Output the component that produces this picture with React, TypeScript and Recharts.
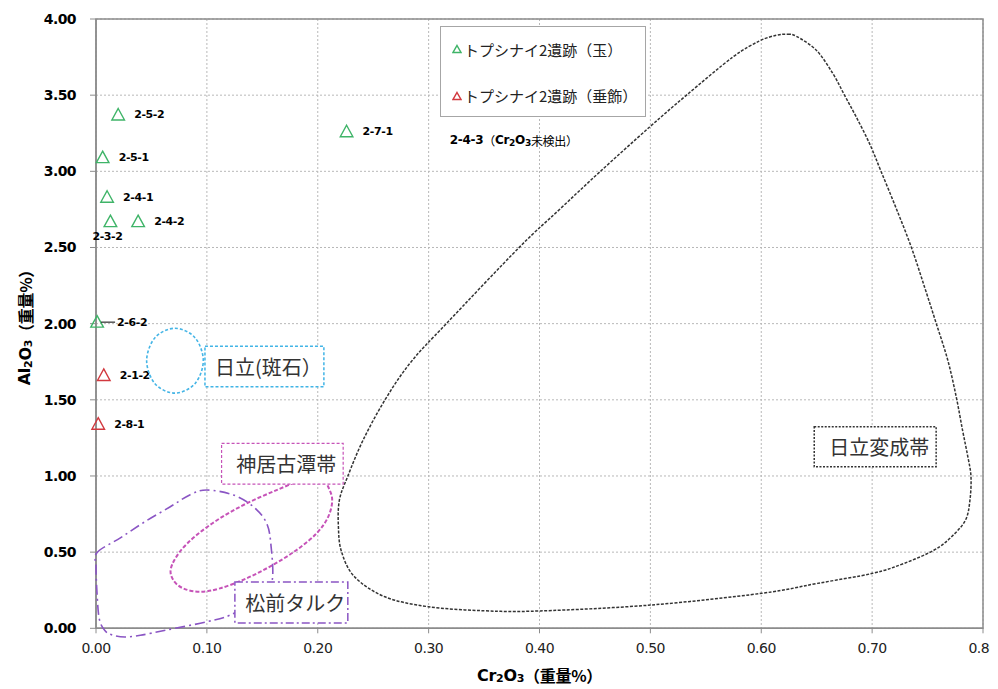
import React from 'react';
import {
  ScatterChart,
  ComposedChart,
  Scatter,
  Line,
  XAxis,
  YAxis,
  CartesianGrid,
  ReferenceArea,
  ReferenceDot,
  Legend,
} from 'recharts';

// ---------- data ----------
const xTicks = [0, 0.1, 0.2, 0.3, 0.4, 0.5, 0.6, 0.7, 0.8];
const yTicks = [0, 0.5, 1, 1.5, 2, 2.5, 3, 3.5, 4];

const seriesNames = ['トプシナイ2遺跡（玉）', 'トプシナイ2遺跡（垂飾）'];

const jadeNames = ['2-5-2', '2-5-1', '2-4-1', '2-3-2', '2-4-2', '2-7-1', '2-6-2'];
const jadeCr = [0.02, 0.006, 0.01, 0.013, 0.038, 0.226, 0.001];
const jadeAl = [3.37, 3.09, 2.83, 2.67, 2.67, 3.26, 2.01];

const pendantNames = ['2-1-2', '2-8-1'];
const pendantCr = [0.007, 0.002];
const pendantAl = [1.66, 1.34];

const noteCr = 0.319;
const noteAl = 3.204;

// region outlines (Cr2O3, Al2O3)
const beltX = [0.6242, 0.6318, 0.6499, 0.6648, 0.6754, 0.6859, 0.6979, 0.7085, 0.722, 0.7355, 0.7475, 0.7581, 0.7685, 0.7761, 0.7818, 0.7863, 0.7894, 0.7885, 0.7845, 0.7719, 0.7563, 0.729, 0.7008, 0.6509, 0.6009, 0.501, 0.4011, 0.3503, 0.2996, 0.2606, 0.2332, 0.2215, 0.2187, 0.2196, 0.2272, 0.241, 0.2606, 0.284, 0.3162, 0.3823, 0.4184, 0.4545, 0.4995, 0.5326, 0.5747, 0.5987, 0.6138];
const beltY = [3.9, 3.887, 3.795, 3.642, 3.499, 3.357, 3.182, 2.996, 2.756, 2.504, 2.241, 2.001, 1.76, 1.52, 1.301, 1.137, 0.999, 0.842, 0.711, 0.601, 0.514, 0.426, 0.361, 0.295, 0.23, 0.153, 0.114, 0.115, 0.142, 0.207, 0.339, 0.503, 0.667, 0.842, 0.999, 1.236, 1.498, 1.747, 2.001, 2.504, 2.751, 2.996, 3.291, 3.499, 3.751, 3.856, 3.893];

const hanX = [0.0712, 0.0893, 0.0968, 0.0893, 0.0712, 0.0532, 0.0457, 0.0532];
const hanY = [1.97, 1.908, 1.757, 1.606, 1.544, 1.606, 1.757, 1.908];

const kamuiX = [0.0676, 0.0757, 0.0908, 0.1118, 0.1359, 0.1629, 0.1885, 0.2038, 0.2095, 0.2131, 0.2095, 0.199, 0.181, 0.1593, 0.1359, 0.1118, 0.0938, 0.0787, 0.0697];
const kamuiY = [0.394, 0.503, 0.612, 0.722, 0.82, 0.907, 0.98, 0.987, 0.929, 0.842, 0.732, 0.623, 0.514, 0.415, 0.328, 0.262, 0.24, 0.262, 0.317];

const matsuX = [0.001, 0.022, 0.044, 0.067, 0.085, 0.1, 0.124, 0.142, 0.154, 0.158, 0.159, 0.15, 0.121, 0.1, 0.064, 0.04, 0.026, 0.015, 0.008, 0.003, 0.001, 0.0];
const matsuY = [0.497, 0.594, 0.699, 0.798, 0.877, 0.908, 0.875, 0.798, 0.689, 0.535, 0.317, 0.206, 0.087, 0.043, -0.011, -0.046, -0.057, -0.045, -0.015, 0.06, 0.22, 0.404];

// label boxes (data coordinates)
const boxNames = ['日立(斑石）', '神居古潭帯', '松前タルク', '日立変成帯'];
const boxX1 = [0.0983, 0.1133, 0.1253, 0.648];
const boxX2 = [0.2056, 0.223, 0.2272, 0.758];
const boxY1 = [1.585, 0.947, 0.035, 1.061];
const boxY2 = [1.852, 1.214, 0.304, 1.323];

// ---------- styles ----------
const W = 990;
const H = 681;
const GREEN = '#3fb468';
const RED = '#d2393f';
const LATIN = "'DejaVu Sans', 'Noto Sans CJK JP', sans-serif";
const CJK = "'Noto Sans CJK JP', sans-serif";

const boxStyles = [
  { stroke: '#41b4e6', dash: '3 2', width: 1.5 },
  { stroke: '#c653b8', dash: '3 2', width: 1.2 },
  { stroke: '#8a55c4', dash: '8 3 2 3', width: 1.5 },
  { stroke: '#333333', dash: '2 1.5', width: 1.5 },
];

const labelOffsets: Record<string, { dx: number; dy: number; leader?: boolean }> = {
  '2-3-2': { dx: -18, dy: 15 },
  '2-6-2': { dx: 20, dy: 0, leader: true },
};

const jadeData = jadeCr.map((x, i) => ({ x, y: jadeAl[i], name: jadeNames[i] }));
const pendantData = pendantCr.map((x, i) => ({ x, y: pendantAl[i], name: pendantNames[i] }));
const toPts = (xs: number[], ys: number[]) => xs.map((x, i) => ({ x, y: ys[i] }));
const beltData = toPts(beltX, beltY);
const hanData = toPts(hanX, hanY);
const kamuiData = toPts(kamuiX, kamuiY);
const matsuData = toPts(matsuX, matsuY);

// closed Catmull-Rom curve factory
function closedSpline(context: any) {
  let pts: number[][] = [];
  return {
    areaStart() {},
    areaEnd() {},
    lineStart() {
      pts = [];
    },
    point(x: number, y: number) {
      pts.push([+x, +y]);
    },
    lineEnd() {
      const n = pts.length;
      if (n === 0) return;
      context.moveTo(pts[0][0], pts[0][1]);
      if (n < 3) {
        for (let i = 1; i < n; i++) context.lineTo(pts[i][0], pts[i][1]);
        return;
      }
      for (let i = 0; i < n; i++) {
        const p0 = pts[(i - 1 + n) % n];
        const p1 = pts[i];
        const p2 = pts[(i + 1) % n];
        const p3 = pts[(i + 2) % n];
        context.bezierCurveTo(
          p1[0] + (p2[0] - p0[0]) / 6,
          p1[1] + (p2[1] - p0[1]) / 6,
          p2[0] - (p3[0] - p1[0]) / 6,
          p2[1] - (p3[1] - p1[1]) / 6,
          p2[0],
          p2[1]
        );
      }
      context.closePath();
    },
  };
}

const makePointShape = (color: string) => (props: any) => {
  const { cx, cy, payload } = props;
  if (cx == null || cy == null) return <g />;
  const off = labelOffsets[payload.name] || { dx: 16, dy: 0 };
  return (
    <g>
      <path
        d={`M${cx},${cy - 6.5}L${cx + 6.3},${cy + 5}L${cx - 6.3},${cy + 5}Z`}
        fill="none"
        stroke={color}
        strokeWidth={1.4}
      />
      {off.leader ? <line x1={cx + 4} y1={cy} x2={cx + 18} y2={cy} stroke="#000" strokeWidth={1} /> : null}
      <text
        x={cx + off.dx}
        y={cy + off.dy}
        dominantBaseline="central"
        fontFamily={LATIN}
        fontWeight="bold"
        fontSize={11}
        letterSpacing={-0.4}
        fill="#000"
      >
        {payload.name}
      </text>
    </g>
  );
};

const noteShape = (props: any) => (
  <text
    x={props.cx}
    y={props.cy}
    dominantBaseline="central"
    fontFamily={LATIN}
    fontWeight="bold"
    fontSize={12}
    letterSpacing={-0.3}
    fill="#000"
  >
    2-4-3
    <tspan fontFamily={CJK} fontWeight="normal">（</tspan>
    Cr
    <tspan fontSize={9} dy={3}>2</tspan>
    <tspan dy={-3}>O</tspan>
    <tspan fontSize={9} dy={3}>3</tspan>
    <tspan dy={-3} fontFamily={CJK} fontWeight="normal">未検出）</tspan>
  </text>
);

const xTitle = (props: any) => {
  const vb = props.viewBox || { x: 88, y: 620, width: 887, height: 30 };
  return (
    <text
      x={vb.x + vb.width / 2}
      y={vb.y + 47}
      textAnchor="middle"
      dominantBaseline="central"
      fontFamily={LATIN}
      fontWeight="bold"
      fontSize={16}
      letterSpacing={-0.3}
      fill="#000"
    >
      Cr
      <tspan fontSize={11} dy={3}>2</tspan>
      <tspan dy={-3}>O</tspan>
      <tspan fontSize={11} dy={3}>3</tspan>
      <tspan dy={-3} fontFamily={CJK}>（重量%）</tspan>
    </text>
  );
};

const yTitle = (props: any) => {
  const vb = props.viewBox || { x: 28, y: 11, width: 60, height: 609 };
  const cx = vb.x - 11;
  const cy = vb.y + vb.height / 2;
  return (
    <text
      x={cx}
      y={cy}
      transform={`rotate(-90, ${cx}, ${cy})`}
      textAnchor="middle"
      dominantBaseline="central"
      fontFamily={LATIN}
      fontWeight="bold"
      fontSize={16}
      letterSpacing={-0.3}
      fill="#000"
    >
      Al
      <tspan fontSize={11} dy={3}>2</tspan>
      <tspan dy={-3}>O</tspan>
      <tspan fontSize={11} dy={3}>3</tspan>
      <tspan dy={-3} fontFamily={CJK}>（重量%）</tspan>
    </text>
  );
};

const renderLegend = (props: any) => {
  const raw: any[] = props.payload && props.payload.length ? props.payload : seriesNames.map((n, i) => ({ value: n, color: i === 0 ? GREEN : RED }));
  const items = [...raw].sort((a, b) => seriesNames.indexOf(a.value) - seriesNames.indexOf(b.value));
  return (
    <div
      style={{
        width: 206,
        height: 91,
        boxSizing: 'border-box',
        border: '1.5px solid #a6a6a6',
        background: '#fff',
        position: 'relative',
        fontFamily: CJK,
        fontSize: 15,
        color: '#222',
      }}
    >
      {items.map((it: any, i: number) => (
        <div
          key={i}
          style={{
            position: 'absolute',
            left: 11,
            top: 11.6 + i * 46.7,
            height: 22,
            display: 'flex',
            alignItems: 'center',
            whiteSpace: 'nowrap',
          }}
        >
          <svg width={10} height={10} style={{ marginRight: 2 }}>
            <path d="M5,1.5L9,8.5L1,8.5Z" fill="none" stroke={it.color} strokeWidth={1.5} />
          </svg>
          <span>{it.value}</span>
        </div>
      ))}
    </div>
  );
};

const boxLabel = (text: string) => (props: any) => {
  const vb = props.viewBox;
  if (!vb) return null;
  return (
    <text
      x={vb.x + vb.width / 2 + 4}
      y={vb.y + vb.height / 2}
      textAnchor="middle"
      dominantBaseline="central"
      fontFamily={CJK}
      fontSize={20}
      fill="#333"
    >
      {text}
    </text>
  );
};

const fmt = (v: number) => Number(v).toFixed(2);

export default function App() {
  return (
    <div style={{ position: 'relative', width: W, height: H }}>
      <div style={{ position: 'absolute', left: 0, top: 0 }}>
        <ScatterChart width={W} height={H} margin={{ top: 11, right: 15, bottom: 30.7, left: 28 }}>
          <CartesianGrid stroke="#b8b8b8" strokeDasharray="2 2" />
          <ReferenceArea x1={0} x2={0.8} y1={0} y2={4} fill="none" stroke="#8c8c8c" strokeWidth={1.5} />
          <XAxis
            type="number"
            dataKey="x"
            domain={[0, 0.8]}
            ticks={xTicks}
            interval={0}
            height={30}
            tickSize={5}
            tickMargin={10}
            tickFormatter={fmt}
            axisLine={{ stroke: '#8c8c8c', strokeWidth: 1.5 }}
            tickLine={{ stroke: '#8c8c8c' }}
            tick={{ fill: '#222', fontSize: 14, fontFamily: LATIN, letterSpacing: -0.5 }}
            label={xTitle}
          />
          <YAxis
            type="number"
            dataKey="y"
            domain={[0, 4]}
            ticks={yTicks}
            interval={0}
            width={60}
            tickSize={6}
            tickMargin={14}
            tickFormatter={fmt}
            axisLine={{ stroke: '#8c8c8c', strokeWidth: 1.5 }}
            tickLine={{ stroke: '#8c8c8c' }}
            tick={{ fill: '#000', fontSize: 14, fontWeight: 'bold', fontFamily: LATIN, letterSpacing: -0.6 }}
            label={yTitle}
          />
          <Scatter
            name={seriesNames[0]}
            data={jadeData}
            fill={GREEN}
            legendType="triangle"
            shape={makePointShape(GREEN)}
            isAnimationActive={false}
          />
          <Scatter
            name={seriesNames[1]}
            data={pendantData}
            fill={RED}
            legendType="triangle"
            shape={makePointShape(RED)}
            isAnimationActive={false}
          />
          <ReferenceDot x={noteCr} y={noteAl} r={0} shape={noteShape} />
          <Legend
            layout="horizontal"
            verticalAlign="middle"
            align="center"
            width={206}
            wrapperStyle={{ left: 432, top: 17.7, width: 206, height: 91 }}
            content={renderLegend}
          />
        </ScatterChart>
      </div>
      <div style={{ position: 'absolute', left: 0, top: 0, pointerEvents: 'none' }}>
        <ComposedChart width={W} height={H} margin={{ top: 11, right: 15.3, bottom: 15, left: 88 }}>
          <XAxis type="number" dataKey="x" domain={[0, 0.8]} hide />
          <YAxis type="number" domain={[-0.3, 4]} hide />
          <Line data={beltData} dataKey="y" type={closedSpline as any} stroke="#333" strokeWidth={1.5} strokeDasharray="3 1.5" dot={false} activeDot={false} isAnimationActive={false} />
          <Line data={hanData} dataKey="y" type={closedSpline as any} stroke="#45b5e6" strokeWidth={1.6} strokeDasharray="3 2" dot={false} activeDot={false} isAnimationActive={false} />
          <Line data={kamuiData} dataKey="y" type={closedSpline as any} stroke="#c653b8" strokeWidth={2} strokeDasharray="4 2" dot={false} activeDot={false} isAnimationActive={false} />
          <Line data={matsuData} dataKey="y" type={closedSpline as any} stroke="#8a55c4" strokeWidth={1.6} strokeDasharray="10 4 2 4" dot={false} activeDot={false} isAnimationActive={false} />
          {boxNames.map((name, i) => (
            <ReferenceArea
              key={name}
              x1={boxX1[i]}
              x2={boxX2[i]}
              y1={boxY1[i]}
              y2={boxY2[i]}
              fill="#ffffff"
              fillOpacity={1}
              stroke={boxStyles[i].stroke}
              strokeWidth={boxStyles[i].width}
              strokeDasharray={boxStyles[i].dash}
              label={boxLabel(name)}
              {...({ zIndex: 1500 } as any)}
            />
          ))}
        </ComposedChart>
      </div>
    </div>
  );
}
